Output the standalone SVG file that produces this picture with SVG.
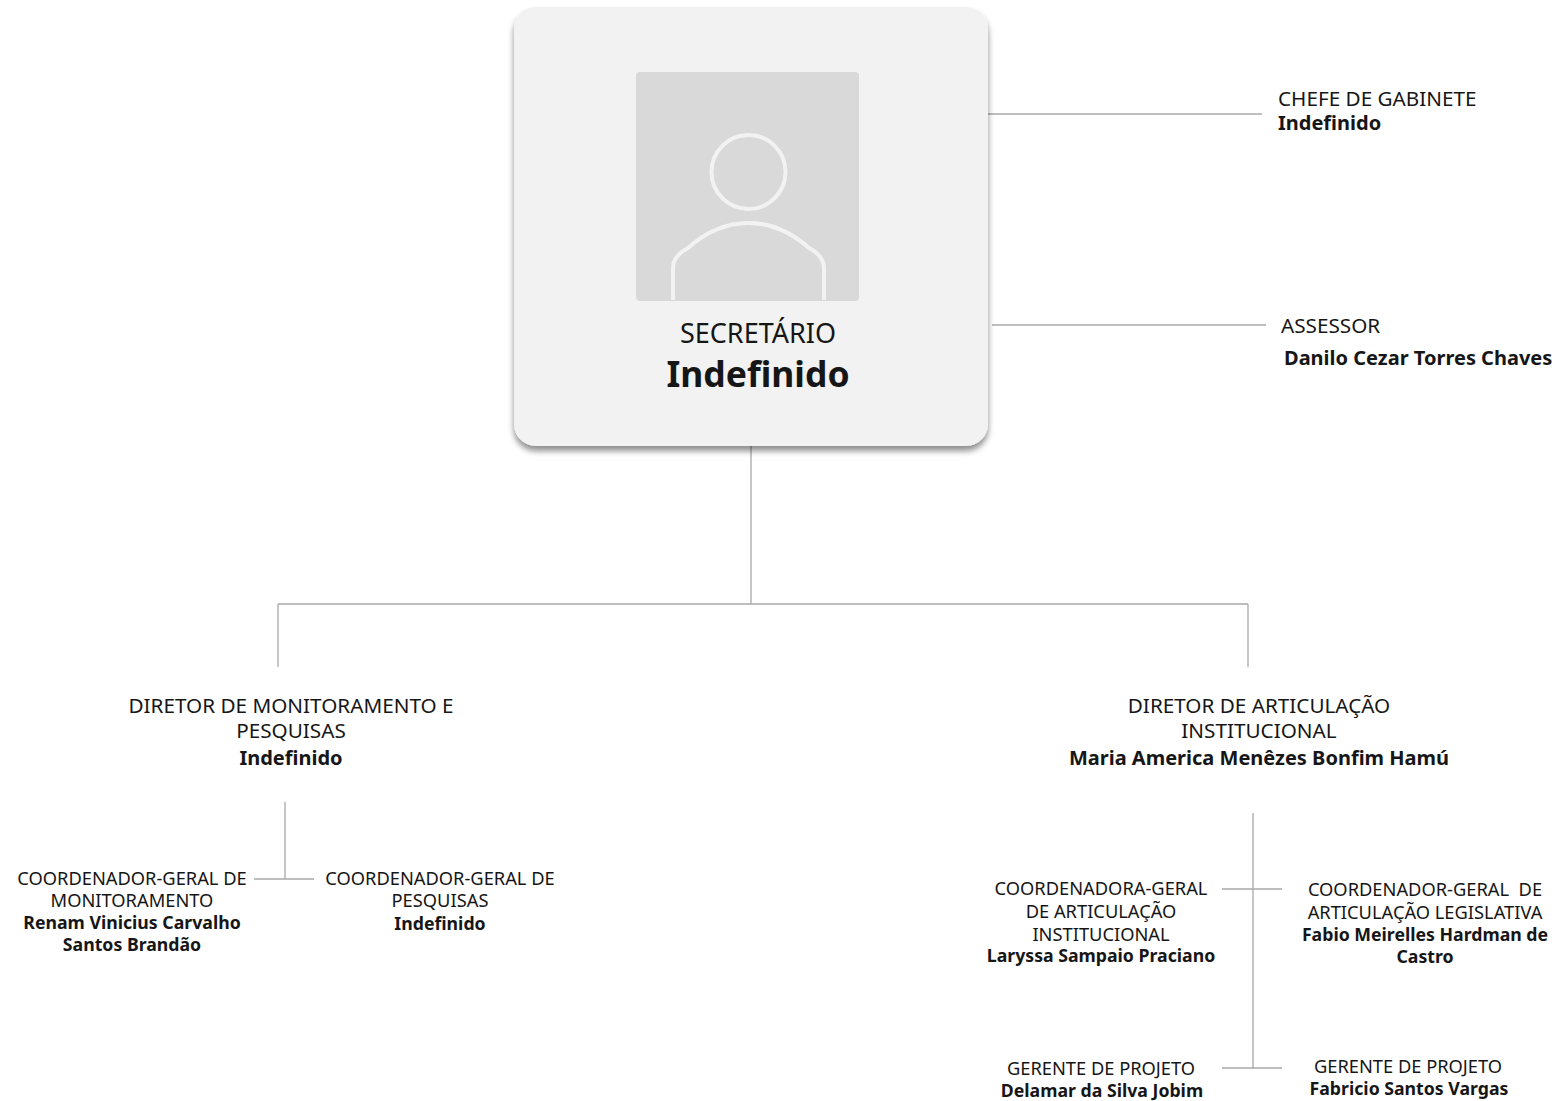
<svg xmlns="http://www.w3.org/2000/svg" width="1564" height="1101" viewBox="0 0 1564 1101">
<style>
  text { font-family: "Noto Sans", "Open Sans", "Liberation Sans", sans-serif; fill: #161616; }
  .t { font-size: 20.7px; }
  .b { font-size: 20px; font-weight: bold; }
  .s { font-size: 18.3px; }
  .sb { font-size: 17.7px; font-weight: bold; }
  .c { text-anchor: middle; }
  .ln { stroke: #a8a8a8; stroke-width: 1.3; fill: none; }
</style>
<defs>
  <filter id="sh" x="-10%" y="-10%" width="120%" height="125%">
    <feGaussianBlur in="SourceAlpha" stdDeviation="3"/>
    <feOffset dx="0" dy="5" result="o"/>
    <feComponentTransfer><feFuncA type="linear" slope="0.45"/></feComponentTransfer>
    <feMerge><feMergeNode/><feMergeNode in="SourceGraphic"/></feMerge>
  </filter>
</defs>
<rect width="1564" height="1101" fill="#ffffff"/>
<g id="connectors">
  <path class="ln" d="M988 114 H1262"/>
  <path class="ln" d="M992 325 H1266"/>
  <path class="ln" d="M751 446 V604"/>
  <path class="ln" d="M278 604 H1248"/>
  <path class="ln" d="M278 604 V667"/>
  <path class="ln" d="M1248 604 V667"/>
  <path class="ln" d="M285 802 V879"/>
  <path class="ln" d="M254 879 H314"/>
  <path class="ln" d="M1253 813 V1069"/>
  <path class="ln" d="M1222 889 H1282"/>
  <path class="ln" d="M1222 1068 H1282"/>
</g>
<g id="secretario">
  <rect x="514" y="7" width="474" height="439" rx="22" fill="#f2f2f2" filter="url(#sh)"/>
  <rect x="636" y="72" width="223" height="229" rx="4" fill="#d9d9d9"/>
  <circle cx="748.5" cy="172" r="37" fill="none" stroke="#f2f2f2" stroke-width="4"/>
  <path d="M673 300 V268 Q673 256 688 248 Q716 223 748.5 223 Q781 223 809 248 Q824 256 824 268 V300" fill="none" stroke="#f2f2f2" stroke-width="4"/>
  <text class="c" x="758" y="343" style="font-size:27px">SECRETÁRIO</text>
  <text class="c" x="758" y="387" style="font-size:35.5px;font-weight:bold">Indefinido</text>
</g>
<g id="chefe">
  <text class="t" x="1278" y="105.5">CHEFE DE GABINETE</text>
  <text class="b" x="1278" y="130">Indefinido</text>
</g>
<g id="assessor">
  <text class="t" x="1281" y="332.5">ASSESSOR</text>
  <text class="b" x="1284" y="365">Danilo Cezar Torres Chaves</text>
</g>
<g id="dir-monit">
  <text class="t c" x="291" y="713">DIRETOR DE MONITORAMENTO E</text>
  <text class="t c" x="291" y="738">PESQUISAS</text>
  <text class="b c" x="291" y="765">Indefinido</text>
</g>
<g id="coord-monit">
  <text class="s c" x="132" y="885">COORDENADOR-GERAL DE</text>
  <text class="s c" x="132" y="907">MONITORAMENTO</text>
  <text class="sb c" x="132" y="929">Renam Vinicius Carvalho</text>
  <text class="sb c" x="132" y="951">Santos Brandão</text>
</g>
<g id="coord-pesq">
  <text class="s c" x="440" y="885">COORDENADOR-GERAL DE</text>
  <text class="s c" x="440" y="907">PESQUISAS</text>
  <text class="sb c" x="440" y="930">Indefinido</text>
</g>
<g id="dir-artic">
  <text class="t c" x="1259" y="713">DIRETOR DE ARTICULAÇÃO</text>
  <text class="t c" x="1259" y="738">INSTITUCIONAL</text>
  <text class="b c" x="1259" y="765">Maria America Menêzes Bonfim Hamú</text>
</g>
<g id="coord-artic-inst">
  <text class="s c" x="1101" y="895">COORDENADORA-GERAL</text>
  <text class="s c" x="1101" y="918">DE ARTICULAÇÃO</text>
  <text class="s c" x="1101" y="941">INSTITUCIONAL</text>
  <text class="sb c" x="1101" y="962">Laryssa Sampaio Praciano</text>
</g>
<g id="coord-artic-leg">
  <text class="s c" x="1425" y="896" xml:space="preserve">COORDENADOR-GERAL  DE</text>
  <text class="s c" x="1425" y="919">ARTICULAÇÃO LEGISLATIVA</text>
  <text class="sb c" x="1425" y="941">Fabio Meirelles Hardman de</text>
  <text class="sb c" x="1425" y="963">Castro</text>
</g>
<g id="gerente-1">
  <text class="s c" x="1101" y="1075">GERENTE DE PROJETO</text>
  <text class="sb c" x="1102" y="1097">Delamar da Silva Jobim</text>
</g>
<g id="gerente-2">
  <text class="s c" x="1408" y="1073">GERENTE DE PROJETO</text>
  <text class="sb c" x="1409" y="1095">Fabricio Santos Vargas</text>
</g>
</svg>
